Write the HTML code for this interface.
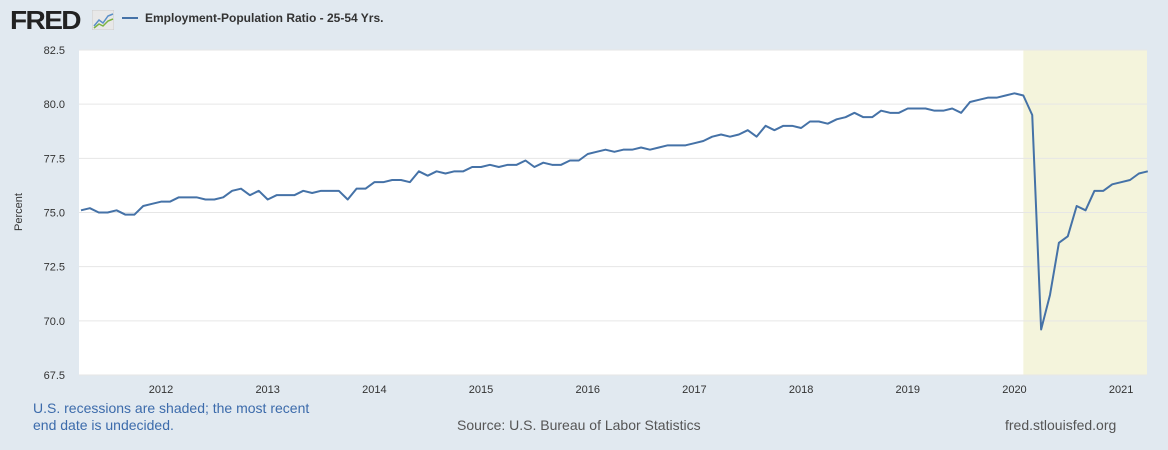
<!DOCTYPE html>
<html><head><meta charset="utf-8"><style>
body{margin:0;width:1168px;height:450px;background:#e1e9f0;font-family:"Liberation Sans",sans-serif;overflow:hidden;position:relative}
.t{position:absolute;white-space:nowrap}
</style></head><body>
<div class="t" style="left:10px;top:5px;font-size:26px;font-weight:900;color:#222;letter-spacing:-1.5px;transform:scaleX(1.08);transform-origin:left">FRED</div>
<svg style="position:absolute;left:92px;top:10px" width="22" height="20"><rect width="22" height="20" fill="#e8e8e8" stroke="#ccc"/><polyline points="2,16 7,10 11,13 16,6 21,4" fill="none" stroke="#5a8fc8" stroke-width="1.5"/><polyline points="2,18 7,14 11,16 16,11 21,9" fill="none" stroke="#7cb342" stroke-width="1.5"/></svg>
<svg style="position:absolute;left:122px;top:16px" width="16" height="4"><line x1="0" y1="2" x2="16" y2="2" stroke="#4572a7" stroke-width="2"/></svg>
<div class="t" style="left:145px;top:11px;font-size:12px;font-weight:bold;color:#333">Employment-Population Ratio - 25-54 Yrs.</div>
<svg id="chart" style="position:absolute;left:0;top:0" width="1168" height="400"></svg>
<div class="t" style="left:33px;top:400px;font-size:14px;color:#3c6bab;line-height:17px">U.S. recessions are shaded; the most recent<br>end date is undecided.</div>
<div class="t" style="left:457px;top:417px;font-size:14px;color:#555">Source: U.S. Bureau of Labor Statistics</div>
<div class="t" style="left:1005px;top:417px;font-size:14px;color:#555">fred.stlouisfed.org</div>
<script>
const startYear=2011, startMonth=3; // April 2011 (0-based month)
const values=[75.1,75.2,75.0,75.0,75.1,74.9,74.9,75.3,75.4,
75.5,75.5,75.7,75.7,75.7,75.6,75.6,75.7,76.0,76.1,75.8,76.0,
75.6,75.8,75.8,75.8,76.0,75.9,76.0,76.0,76.0,75.6,76.1,76.1,
76.4,76.4,76.5,76.5,76.4,76.9,76.7,76.9,76.8,76.9,76.9,77.1,
77.1,77.2,77.1,77.2,77.2,77.4,77.1,77.3,77.2,77.2,77.4,77.4,
77.7,77.8,77.9,77.8,77.9,77.9,78.0,77.9,78.0,78.1,78.1,78.1,
78.2,78.3,78.5,78.6,78.5,78.6,78.8,78.5,79.0,78.8,79.0,79.0,
78.9,79.2,79.2,79.1,79.3,79.4,79.6,79.4,79.4,79.7,79.6,79.6,
79.8,79.8,79.8,79.7,79.7,79.8,79.6,80.1,80.2,80.3,80.3,80.4,
80.5,80.4,79.5,69.6,71.2,73.6,73.9,75.3,75.1,76.0,76.0,76.3,
76.4,76.5,76.8,76.9];
const yTicks=[67.5,70.0,72.5,75.0,77.5,80.0,82.5];
const xTickYears=[2012,2013,2014,2015,2016,2017,2018,2019,2020,2021];
const recessionStart=[2020,1]; // Feb 2020, open-ended
const L=79,R=1147,T=50,B=375;
const ns="http://www.w3.org/2000/svg",svg=document.getElementById('chart');
const y=v=>B-(v-67.5)/(82.5-67.5)*(B-T);
const mIdx=(yr,m)=>(yr-startYear)*12+(m-startMonth);
const x=i=>81+i*8.89;
function mk(t,a){const e=document.createElementNS(ns,t);for(const k in a)e.setAttribute(k,a[k]);svg.appendChild(e);return e;}
const bg=mk('rect',{x:L,y:T,width:R-L,height:B-T,fill:'#fff'});


const rs=mk('rect',{x:x(mIdx(recessionStart[0],recessionStart[1])),y:T,width:R-x(mIdx(recessionStart[0],recessionStart[1])),height:B-T,fill:'#f4f4dc'});


yTicks.forEach(v=>{
 const g=mk('line',{x1:L,x2:R,y1:y(v),y2:y(v),stroke:'#e6e6e6'});
 
 
 const t=mk('text',{x:65,y:y(v)+4,'text-anchor':'end','font-size':11,fill:'#333'});t.textContent=v.toFixed(1);
 
 
});
xTickYears.forEach(yr=>{
 const t=mk('text',{x:x(mIdx(yr,0)),y:393,'text-anchor':'middle','font-size':11,fill:'#333'});t.textContent=yr;
 
 
});
const yt=mk('text',{transform:'translate(22,212) rotate(-90)','text-anchor':'middle','font-size':11,fill:'#333'});yt.textContent='Percent';


const ln=mk('polyline',{points:values.map((v,i)=>x(i)+','+y(v)).join(' '),fill:'none',stroke:'#4572a7','stroke-width':2,'stroke-linejoin':'round'});


</script>
</body></html>
